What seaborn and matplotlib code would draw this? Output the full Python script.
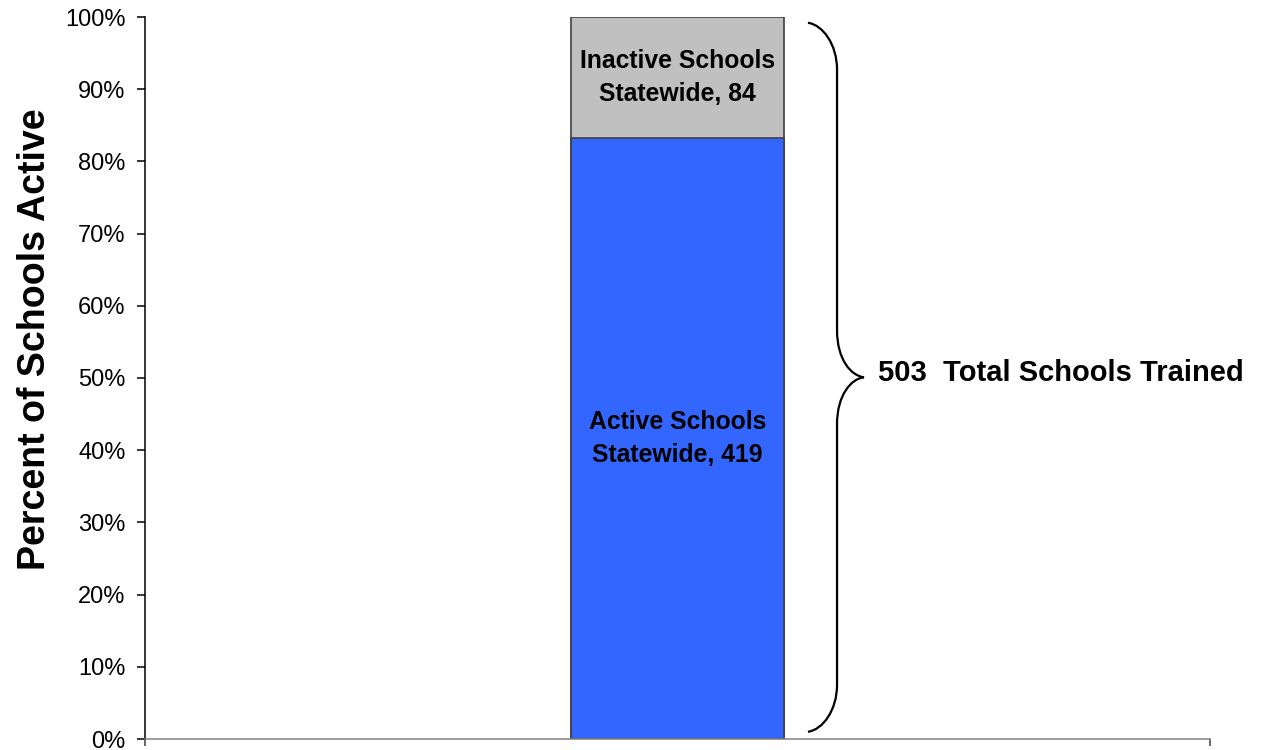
import matplotlib
matplotlib.use("Agg")
import matplotlib.pyplot as plt
from matplotlib.path import Path
from matplotlib.patches import PathPatch
from matplotlib.ticker import FuncFormatter
import seaborn as sns
import pandas as pd

# Data
categories = ["Statewide"]
active_schools = [419]
inactive_schools = [84]
segment_names = ["Active Schools", "Inactive Schools"]
y_ticks = [0, 10, 20, 30, 40, 50, 60, 70, 80, 90, 100]

total_schools = [a + i for a, i in zip(active_schools, inactive_schools)]
active_pct = [a / t * 100 for a, t in zip(active_schools, total_schools)]
full_pct = [100.0 for _ in total_schools]

df = pd.DataFrame({
    "category": categories,
    "active": active_schools,
    "inactive": inactive_schools,
    "total": total_schools,
    "active_pct": active_pct,
    "full_pct": full_pct,
})

sns.set_theme(style="white")
plt.rcParams["font.family"] = ["Liberation Sans", "DejaVu Sans"]
plt.rcParams["text.color"] = "black"
plt.rcParams["axes.labelcolor"] = "black"
plt.rcParams["xtick.color"] = "black"
plt.rcParams["ytick.color"] = "black"

fig = plt.figure(figsize=(12.62, 7.5), dpi=100)
ax = fig.add_axes([145 / 1262, 11 / 750, 1065 / 1262, 722 / 750])

edge = "#404040"
# Stacked bar: full-height grey (inactive on top), blue active portion over it
sns.barplot(data=df, x="category", y="full_pct", color="#C0C0C0", saturation=1,
            width=0.2, edgecolor=edge, linewidth=1.2, ax=ax)
sns.barplot(data=df, x="category", y="active_pct", color="#3366FF", saturation=1,
            width=0.2, edgecolor=edge, linewidth=1.2, ax=ax)

ax.set_xlim(-0.5, 0.5)
ax.set_ylim(0, 100)
ax.set_yticks(y_ticks)
ax.yaxis.set_major_formatter(FuncFormatter(lambda v, _: f"{v:.0f}%"))
ax.set_xticks([-0.5, 0.5])
ax.set_xticklabels(["", ""])
ax.set_xlabel("")
ax.set_ylabel("Percent of Schools Active", fontsize=27, fontweight="bold",
              color="black")
ax.yaxis.set_label_coords(-0.0865, 0.554)

for side in ["top", "right"]:
    ax.spines[side].set_visible(False)
ax.spines["left"].set_color("black")
ax.spines["left"].set_linewidth(1.1)
ax.spines["bottom"].set_color("#808080")
ax.spines["bottom"].set_linewidth(1.1)
ax.tick_params(axis="y", direction="out", length=6, width=1.1, color="black",
               labelcolor="black", pad=8, labelsize=17, left=True)
ax.tick_params(axis="x", direction="out", length=5, width=1.1, color="#404040",
               bottom=True)

# Segment labels centred in each segment
for i, row in df.iterrows():
    inactive_mid = row["active_pct"] + (100 - row["active_pct"]) / 2
    ax.text(i, inactive_mid, f"{segment_names[1]}\nStatewide, {row['inactive']}",
            ha="center", va="center", fontsize=17.8, fontweight="bold",
            color="black", linespacing=1.5)
    ax.text(i, row["active_pct"] / 2, f"{segment_names[0]}\nStatewide, {row['active']}",
            ha="center", va="center", fontsize=17.8, fontweight="bold",
            color="black", linespacing=1.45)

# Curly brace spanning the whole bar
x0 = 0.1225      # brace ends
xs = 0.1498      # straight stem
xt = 0.1751      # tip
y_lo, y_hi = 1.0, 99.2
y_mid = (y_lo + y_hi) / 2
c = 6.5          # curve extent
verts = [
    (x0, y_hi),
    (x0 + 0.014, y_hi - 0.3), (xs, y_hi - 3.0), (xs, y_hi - c),
    (xs, y_mid + c),
    (xs, y_mid + 2.5), (xs + 0.013, y_mid + 0.2), (xt, y_mid),
    (xs + 0.013, y_mid - 0.2), (xs, y_mid - 2.5), (xs, y_mid - c),
    (xs, y_lo + c),
    (xs, y_lo + 3.0), (x0 + 0.014, y_lo + 0.3), (x0, y_lo),
]
codes = [Path.MOVETO,
         Path.CURVE4, Path.CURVE4, Path.CURVE4,
         Path.LINETO,
         Path.CURVE4, Path.CURVE4, Path.CURVE4,
         Path.CURVE4, Path.CURVE4, Path.CURVE4,
         Path.LINETO,
         Path.CURVE4, Path.CURVE4, Path.CURVE4]
ax.add_patch(PathPatch(Path(verts, codes), facecolor="none", edgecolor="black",
                       linewidth=1.6, clip_on=False))

ax.text(0.188, 50.7, f"{total_schools[0]}  Total Schools Trained",
        ha="left", va="center", fontsize=21, fontweight="bold", color="black")

fig.savefig("out.png", dpi=100)
